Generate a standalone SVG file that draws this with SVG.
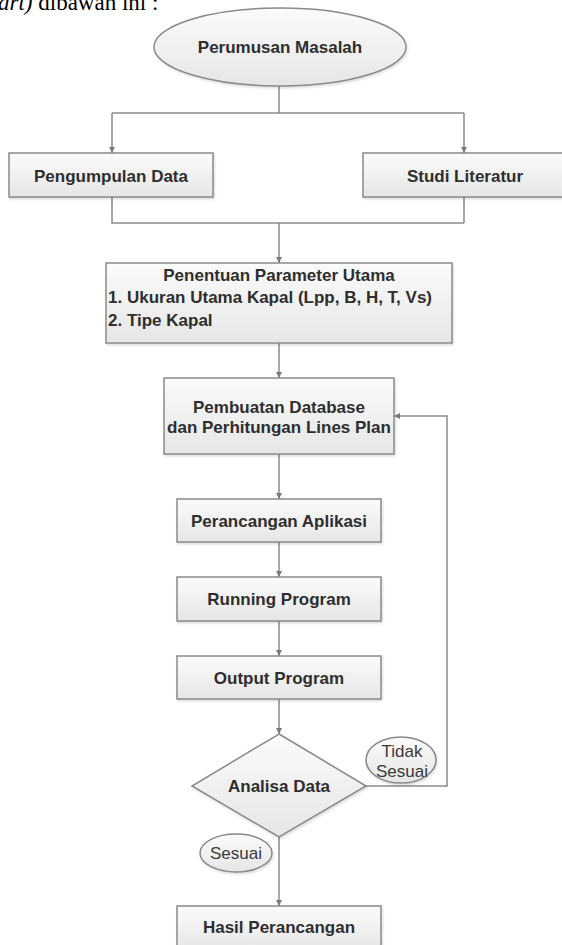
<svg xmlns="http://www.w3.org/2000/svg" width="562" height="945" viewBox="0 0 562 945">
<defs>
<linearGradient id="g" x1="0" y1="0" x2="0" y2="1">
<stop offset="0" stop-color="#fbfbfb"/>
<stop offset="1" stop-color="#e6e6e6"/>
</linearGradient>
<marker id="arr" viewBox="0 0 10 10" refX="10" refY="5" markerWidth="6" markerHeight="6" markerUnits="userSpaceOnUse" orient="auto">
<path d="M0,0 L10,5 L0,10 z" fill="#7a7a7a"/>
</marker>
<filter id="sh" x="-5%" y="-5%" width="112%" height="120%">
<feDropShadow dx="1" dy="1.5" stdDeviation="1" flood-color="#000" flood-opacity="0.15"/>
</filter>
</defs>
<style>
.n{fill:url(#g);stroke:#8a8a8a;stroke-width:1.5;filter:url(#sh)}
.c{fill:none;stroke:#8a8a8a;stroke-width:1.5}
.t{font-family:"Liberation Sans",Arial,sans-serif;font-size:17px;font-weight:bold;fill:#2e2e2e;text-anchor:middle}
.l{font-family:"Liberation Sans",Arial,sans-serif;font-size:17px;fill:#3a3a3a;text-anchor:middle}
</style>
<rect width="562" height="945" fill="#fff"/>
<text x="-2" y="10" font-family="'Liberation Serif','Times New Roman',serif" font-size="23" fill="#000"><tspan font-style="italic">art)</tspan> dibawah ini :</text>
<g id="connectors">
<path class="c" d="M279,86 V113 M112,113 H464"/>
<path class="c" d="M112,113 V153" marker-end="url(#arr)"/>
<path class="c" d="M464,113 V153" marker-end="url(#arr)"/>
<path class="c" d="M112,197 V223 H464 M464,197 V223"/>
<path class="c" d="M279,223 V263" marker-end="url(#arr)"/>
<path class="c" d="M279,343 V378" marker-end="url(#arr)"/>
<path class="c" d="M279,454 V499" marker-end="url(#arr)"/>
<path class="c" d="M279,542 V577" marker-end="url(#arr)"/>
<path class="c" d="M279,621 V656" marker-end="url(#arr)"/>
<path class="c" d="M279,699 V734" marker-end="url(#arr)"/>
<path class="c" d="M279,837 V906" marker-end="url(#arr)"/>
<path class="c" d="M366,786 H447 V416 H394" marker-end="url(#arr)"/>
</g>
<g id="perumusan">
<ellipse class="n" cx="280" cy="47" rx="126" ry="39"/>
<text class="t" x="280" y="53">Perumusan Masalah</text>
</g>
<g id="pengumpulan">
<rect class="n" x="9" y="153" width="204" height="44"/>
<text class="t" x="111" y="182">Pengumpulan Data</text>
</g>
<g id="studi">
<rect class="n" x="363" y="153" width="204" height="44"/>
<text class="t" x="465" y="182">Studi Literatur</text>
</g>
<g id="penentuan">
<rect class="n" x="106" y="263" width="346" height="80"/>
<text class="t" x="279" y="281">Penentuan Parameter Utama</text>
<text class="t" x="108" y="303" text-anchor="start" style="text-anchor:start">1. Ukuran Utama Kapal (Lpp, B, H, T, Vs)</text>
<text class="t" x="108" y="326" style="text-anchor:start">2. Tipe Kapal</text>
</g>
<g id="pembuatan">
<rect class="n" x="164" y="378" width="230" height="76"/>
<text class="t" x="279" y="413">Pembuatan Database</text>
<text class="t" x="279" y="433">dan Perhitungan Lines Plan</text>
</g>
<g id="perancangan">
<rect class="n" x="177" y="499" width="204" height="43"/>
<text class="t" x="279" y="527">Perancangan Aplikasi</text>
</g>
<g id="running">
<rect class="n" x="177" y="577" width="204" height="44"/>
<text class="t" x="279" y="605">Running Program</text>
</g>
<g id="output">
<rect class="n" x="177" y="656" width="204" height="43"/>
<text class="t" x="279" y="684">Output Program</text>
</g>
<g id="analisa">
<path class="n" d="M279,734 L366,786 L279,837 L192,786 Z"/>
<text class="t" x="279" y="792">Analisa Data</text>
</g>
<g id="tidak-sesuai">
<ellipse class="n" cx="401" cy="760" rx="35" ry="23"/>
<text class="l" x="402" y="757">Tidak</text>
<text class="l" x="402" y="777">Sesuai</text>
</g>
<g id="sesuai">
<ellipse class="n" cx="236" cy="853" rx="36" ry="19"/>
<text class="l" x="236" y="859">Sesuai</text>
</g>
<g id="hasil">
<rect class="n" x="177" y="906" width="204" height="44"/>
<text class="t" x="279" y="933">Hasil Perancangan</text>
</g>
</svg>
